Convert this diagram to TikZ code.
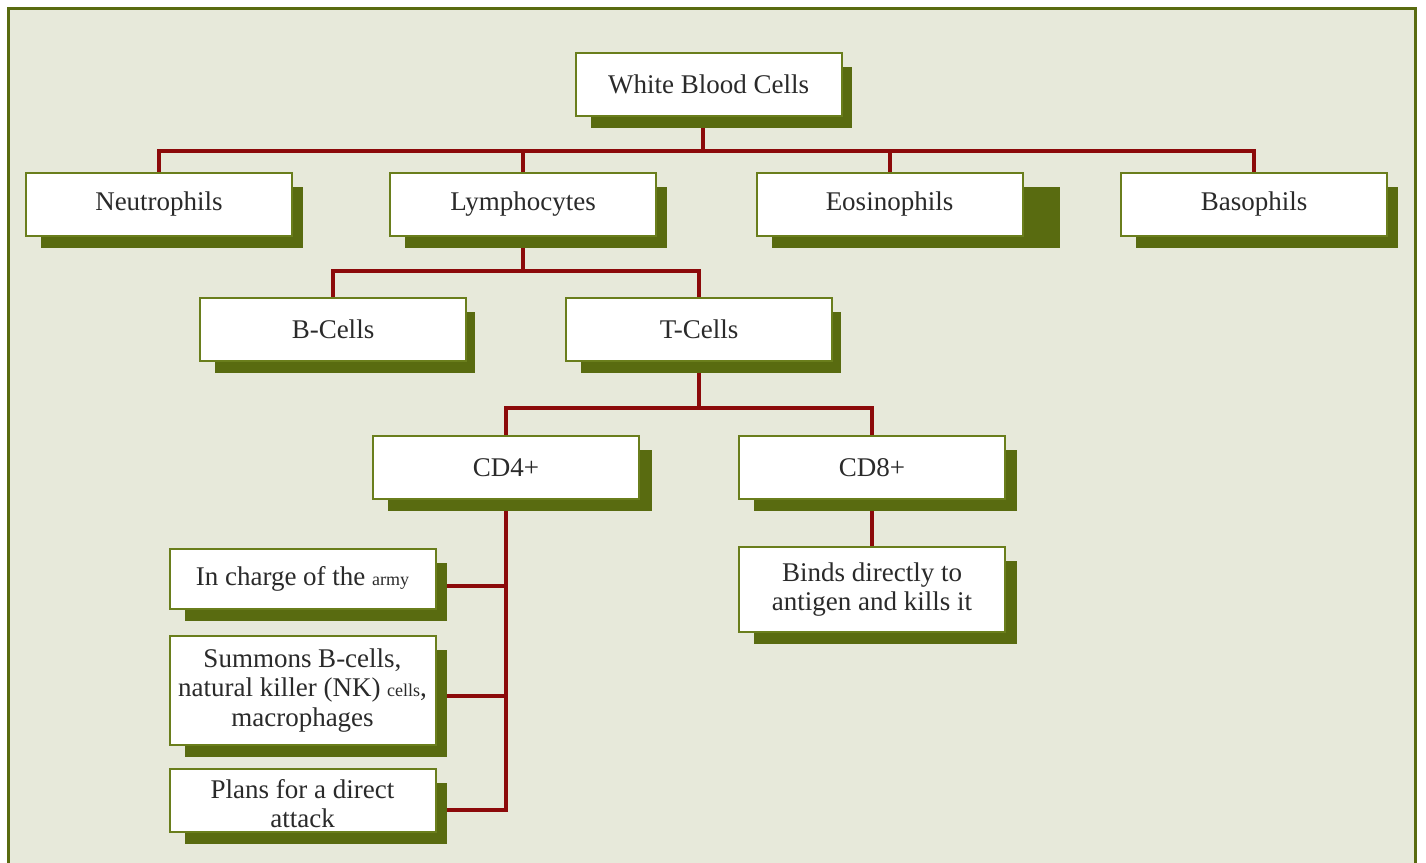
\documentclass[tikz,border=0pt]{standalone}
\usepackage{fontspec}
\setmainfont{Liberation Serif}
\usetikzlibrary{backgrounds}
\definecolor{wbcpaper}{HTML}{E7E9DA}
\definecolor{wbcolive}{HTML}{596B10}
\definecolor{wbcedge}{HTML}{6A7E1C}
\definecolor{wbcred}{HTML}{8C0A0A}
\definecolor{wbcink}{HTML}{2A2A2A}

\begin{document}
\begin{tikzpicture}[x=0.5pt,y=-0.5pt,
  cellbox/.style={draw=wbcedge,line width=1pt,fill=white,inner sep=0pt,
    minimum width=133pt,minimum height=31.5pt,align=center,text=wbcink,
    font=\fontsize{13.5}{14.8}\selectfont},
  link/.style={draw=wbcred,line width=2pt}]
  \useasboundingbox (0,0) rectangle (1426,863);
  \node[cellbox] (wbc) at (708.5,84.5) {White Blood Cells};
  \node[cellbox] (neut) at (159,204.5) {Neutrophils};
  \node[cellbox] (lymph) at (523,204.5) {Lymphocytes};
  \node[cellbox] (eos) at (889.5,204.5) {Eosinophils};
  \node[cellbox] (baso) at (1254,204.5) {Basophils};
  \node[cellbox] (bcell) at (333,329) {B-Cells};
  \node[cellbox] (tcell) at (699,329) {T-Cells};
  \node[cellbox] (cdfour) at (506,467.5) {CD4+};
  \node[cellbox] (cdeight) at (872,467.5) {CD8+};
  \node[cellbox,minimum height=30pt] (incharge) at (302.5,579) {In charge of the {\small army}};
  \node[cellbox,minimum height=54.5pt] (summons) at (302.5,690.5)
    {Summons B-cells,\\natural killer (NK) {\small cells},\\macrophages};
  \node[cellbox] (plans) at (302.5,800.5) {\raisebox{-13.5pt}[0pt][0pt]{\shortstack{Plans for a direct\\[2pt]attack}}};
  \node[cellbox,minimum height=42.5pt] (binds) at (872,589.5) {Binds directly to\\antigen and kills it};
  \begin{scope}[on background layer]
    \fill[wbcpaper] (8,8) rectangle (1415,863);
    \draw[wbcolive,line width=1.5pt] (8,863) -- (8,8) -- (1415,8) -- (1415,863);
    \draw[link] ([xshift=-3pt]wbc.south) -- ++(0,34) coordinate (busa);
    \draw[link] (neut.north) |- (busa) -| (baso.north);
    \draw[link] (lymph.north) -- (lymph.north |- busa);
    \draw[link] (eos.north) -- (eos.north |- busa);
    \draw[link] (lymph.south) -- ++(0,34) coordinate (busb);
    \draw[link] (bcell.north) |- (busb) -| (tcell.north);
    \draw[link] (tcell.south) -- ++(0,46) coordinate (busc);
    \draw[link] (cdfour.north) |- (busc) -| (cdeight.north);
    \draw[link] (cdfour.south) |- ([yshift=-4.5pt]plans.east);
    \draw[link] ([yshift=-3.5pt]incharge.east) -- ([yshift=-3.5pt]incharge.east -| cdfour);
    \draw[link] ([yshift=-2.5pt]summons.east) -- ([yshift=-2.5pt]summons.east -| cdfour);
    \draw[link] (cdeight.south) -- (binds.north);
    \foreach \n/\dr in {wbc/9,neut/10,lymph/10,eos/36,baso/10,bcell/8,tcell/8,
        cdfour/12,cdeight/11,incharge/10,summons/10,plans/10,binds/11}
      \fill[wbcolive] ([shift={(16,15)}]\n.north west) rectangle ([shift={(\dr,11)}]\n.south east);
  \end{scope}
\end{tikzpicture}
\end{document}
